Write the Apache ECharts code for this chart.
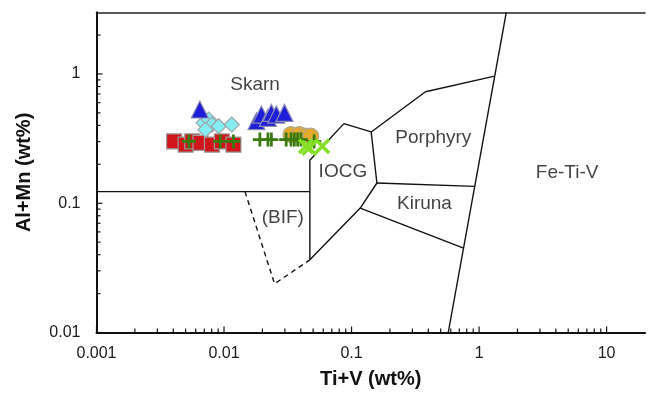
<!DOCTYPE html>
<html>
<head>
<meta charset="utf-8">
<script src="https://cdn.jsdelivr.net/npm/echarts@6/dist/echarts.min.js"></script>
<style>
  html, body { margin: 0; padding: 0; background: #fff; }
  #chart { width: 648px; height: 395px; }
</style>
</head>
<body>
<div id="chart"></div>
<script>
// Axis ranges and tick labels (log–log discrimination diagram)
const xRange = [0.001, 20];
const yRange = [0.01, 3];
const xTickLabels = ['0.001', '0.01', '0.1', '1', '10'];
const yTickLabels = ['0.01', '0.1', '1'];

// Field boundaries, [Ti+V, Al+Mn] in wt%
const skarnBase   = [[0.001, 0.123], [0.0471, 0.123]];
const iocgField   = [[0.0471, 0.215], [0.0871, 0.413], [0.1426, 0.356], [0.158, 0.1434],
                     [0.117, 0.0918], [0.0471, 0.0365], [0.0471, 0.215]];
const porphyryTop = [[0.1426, 0.356], [0.380, 0.728], [1.323, 0.962]];
const porphyryBase = [[0.158, 0.1434], [0.923, 0.135]];
const kirunaBase  = [[0.117, 0.0918], [0.755, 0.045]];
const feTiVLine   = [[0.573, 0.01], [1.634, 3]];
const bifField    = [[0.0146, 0.123], [0.0249, 0.0238], [0.0471, 0.0365]];

// Field names and their anchor positions
const fieldNames = ['Skarn', 'IOCG', '(BIF)', 'Porphyry', 'Kiruna', 'Fe-Ti-V'];
const fieldPos = [[0.0175, 0.83], [0.0855, 0.176], [0.0289, 0.0767], [0.438, 0.320], [0.373, 0.099], [4.9, 0.173]];

// Magnetite analyses, one array per sample group
const redSquares = [[0.00406, 0.301], [0.00500, 0.284], [0.00563, 0.301], [0.00654, 0.293],
                    [0.00804, 0.284], [0.00962, 0.301], [0.01185, 0.284]];
const cyanDiamonds = [[0.00693, 0.419], [0.00759, 0.444], [0.00804, 0.406], [0.00907, 0.394],
                      [0.0115, 0.406], [0.00715, 0.371]];
const blueTriangles = [[0.00646, 0.531], [0.01796, 0.431], [0.01963, 0.485], [0.0221, 0.458],
                       [0.0235, 0.500], [0.0257, 0.485], [0.0298, 0.500]];
const goldCircles = [[0.0335, 0.340], [0.0390, 0.340], [0.0438, 0.330], [0.0479, 0.330]];
const greenCrosses = [[0.00531, 0.301], [0.00934, 0.301], [0.01185, 0.301], [0.0191, 0.311],
                      [0.0221, 0.311], [0.0235, 0.311], [0.0307, 0.311], [0.0335, 0.311],
                      [0.0356, 0.311], [0.0378, 0.311], [0.0401, 0.311], [0.0509, 0.301]];
const limeXs = [[0.0438, 0.276], [0.0466, 0.268], [0.0590, 0.276]];

// Tick positions: majors at powers of ten, minors at 2..9 within each decade
function decadeTicks(lo, hi) {
  const major = [], minor = [];
  for (let e = Math.round(Math.log10(lo)); Math.pow(10, e) <= hi; e++) {
    const base = Math.pow(10, e);
    major.push(base);
    for (let m = 2; m <= 9; m++) {
      const v = m * base;
      if (v < hi * 0.999) minor.push(v);
    }
  }
  return { major, minor };
}
const xt = decadeTicks(xRange[0], xRange[1]);
const yt = decadeTicks(yRange[0], yRange[1]);

const FONT = '"Liberation Sans", Arial, sans-serif';
const plusPath = 'path://M4,0h2v4h4v2h-4v4h-2v-4h-4v-2h4z';
const xPath = 'path://M0,1.5L1.5,0L5,3.5L8.5,0L10,1.5L6.5,5L10,8.5L8.5,10L5,6.5L1.5,10L0,8.5L3.5,5Z';

function boundary(data, dashed) {
  return {
    type: 'line', data: data, symbol: 'none', silent: true, z: 3,
    lineStyle: { color: '#111', width: 1.4, type: dashed ? [5, 4] : 'solid' },
    animation: false
  };
}

function markers(data, symbol, size, color, border, z) {
  return {
    type: 'scatter', data: data, symbol: symbol, symbolSize: size, z: z || 4,
    itemStyle: { color: color, borderColor: border, borderWidth: border ? 1.2 : 0, opacity: 1 },
    animation: false
  };
}

const chart = echarts.init(document.getElementById('chart'), null, { renderer: 'canvas' });

chart.setOption({
  animation: false,
  backgroundColor: '#fff',
  grid: { left: 96.5, top: 12.3, bottom: 62.5, right: -3.4 },
  xAxis: [{
    type: 'log', logBase: 10, min: xRange[0], max: xRange[1],
    name: 'Ti+V (wt%)', nameLocation: 'middle', nameGap: 37,
    nameTextStyle: { fontFamily: FONT, fontSize: 20, fontWeight: 'bold', color: '#111' },
    axisLine: { show: true, lineStyle: { color: '#111', width: 2 } },
    axisTick: { show: false },
    splitLine: { show: false },
    axisLabel: {
      fontFamily: FONT, fontSize: 16, color: '#1a1a1a', margin: 13,
      formatter: function (v) {
        const i = Math.round(Math.log10(v)) + 3;
        return Math.abs(Math.log10(v) - Math.round(Math.log10(v))) < 1e-6 && xTickLabels[i] ? xTickLabels[i] : '';
      }
    }
  }, {
    type: 'log', logBase: 10, min: xRange[0], max: xRange[1], position: 'top',
    axisLine: { show: true, lineStyle: { color: '#222', width: 1.5 } },
    axisTick: { show: false }, axisLabel: { show: false }, splitLine: { show: false }
  }],
  yAxis: {
    type: 'log', logBase: 10, min: yRange[0], max: yRange[1],
    name: 'Al+Mn (wt%)', nameLocation: 'middle', nameGap: 62, nameRotate: 90,
    nameTextStyle: { fontFamily: FONT, fontSize: 20, fontWeight: 'bold', color: '#111' },
    axisLine: { show: true, lineStyle: { color: '#111', width: 2 } },
    axisTick: { show: false },
    splitLine: { show: false },
    axisLabel: {
      fontFamily: FONT, fontSize: 16, color: '#1a1a1a', margin: 16,
      formatter: function (v) {
        const i = Math.round(Math.log10(v)) + 2;
        return Math.abs(Math.log10(v) - Math.round(Math.log10(v))) < 1e-6 && yTickLabels[i] ? yTickLabels[i] : '';
      }
    }
  },
  series: [
    boundary(skarnBase),
    boundary(iocgField),
    boundary(porphyryTop),
    boundary(porphyryBase),
    boundary(kirunaBase),
    boundary(feTiVLine),
    boundary(bifField, true),
    // inward ticks on the bottom axis
    {
      type: 'custom', silent: true, clip: false, z: 5,
      data: xt.major.map(v => [v, yRange[0], 6]).concat(xt.minor.map(v => [v, yRange[0], 4])),
      renderItem: function (params, api) {
        const p = api.coord([api.value(0), api.value(1)]);
        return { type: 'line', shape: { x1: p[0], y1: p[1], x2: p[0], y2: p[1] - api.value(2) },
                 style: { stroke: '#111', lineWidth: 1.2 } };
      }
    },
    // inward ticks on the left axis
    {
      type: 'custom', silent: true, clip: false, z: 5,
      data: yt.major.map(v => [xRange[0], v, 6]).concat(yt.minor.map(v => [xRange[0], v, 4])),
      renderItem: function (params, api) {
        const p = api.coord([api.value(0), api.value(1)]);
        return { type: 'line', shape: { x1: p[0], y1: p[1], x2: p[0] + api.value(2), y2: p[1] },
                 style: { stroke: '#111', lineWidth: 1.2 } };
      }
    },
    markers(redSquares, 'rect', 15, '#d0161b', '#9a9a9a', 4),
    markers(cyanDiamonds, 'diamond', 15, '#86eef2', '#9aa4a8', 5),
    markers(blueTriangles, 'triangle', 17, '#1e1ed8', '#8c8cb4', 5),
    markers(goldCircles, 'circle', 16, '#e2a92c', '#b0a890', 5),
    markers(greenCrosses, plusPath, 14, '#3b7a10', null, 6),
    markers(limeXs, xPath, 16, '#84e024', null, 6),
    // field names
    {
      type: 'scatter', symbolSize: 0, silent: true, z: 7,
      data: fieldNames.map((n, i) => ({ name: n, value: fieldPos[i] })),
      label: {
        show: true, position: 'inside', formatter: '{b}',
        fontFamily: FONT, fontSize: 19, color: '#111'
      }
    }
  ]
});
</script>
</body>
</html>
